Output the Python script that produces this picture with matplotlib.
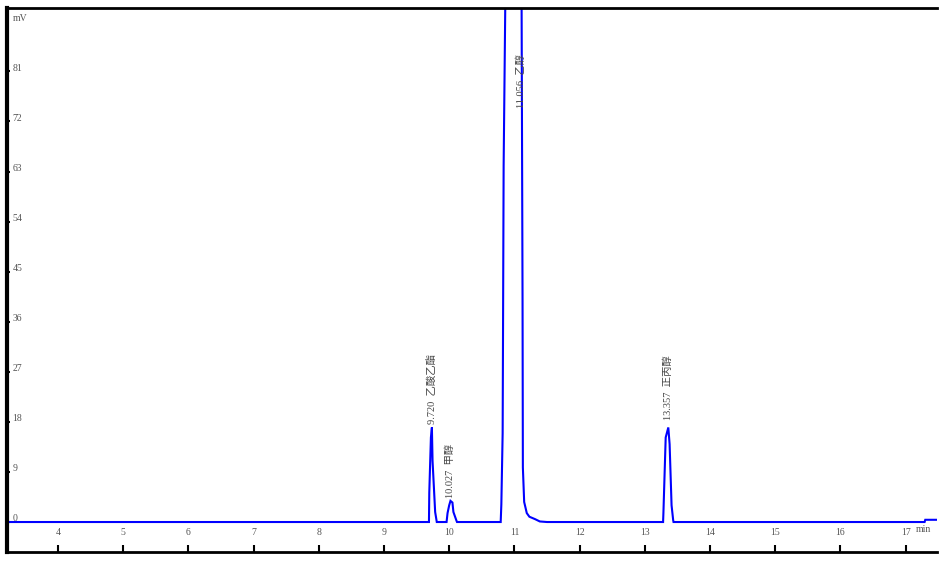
import matplotlib
matplotlib.use("Agg")
import matplotlib.pyplot as plt
import matplotlib.transforms as mtransforms

# chromatogram signal (min, mV)
time_min = [3.22, 9.60, 9.69, 9.695, 9.72, 9.735, 9.745, 9.785, 9.81,
            9.96, 9.975, 10.00, 10.02, 10.05, 10.065, 10.11, 10.12,
            10.79, 10.80, 10.82, 10.835, 10.862, 10.95, 11.05, 11.11, 11.125,
            11.13, 11.15, 11.19, 11.23, 11.32, 11.39, 11.50,
            13.25, 13.28, 13.285, 13.32, 13.36, 13.38, 13.41, 13.435, 13.44,
            17.29, 17.30, 17.50]
signal_mv = [0.0, 0.0, 0.0, 5.3, 15.2, 17.0, 11.0, 1.8, 0.0,
             0.0, 1.6, 3.0, 3.8, 3.5, 1.8, 0.3, 0.0,
             0.0, 3.2, 16.0, 64.0, 95.0, 200.0, 200.0, 95.0, 40.0,
             9.8, 3.6, 1.6, 0.95, 0.5, 0.1, 0.0,
             0.0, 0.0, 1.6, 15.2, 17.0, 14.0, 3.0, 0.3, 0.0,
             0.0, 0.4, 0.4]

# peak annotations
peak_times = [9.735, 10.02, 11.10, 13.36]
peak_label_y = [17.6, 4.4, 74.5, 18.4]
peak_labels = ["9.720  乙酸乙酯", "10.027  甲醇", "11.056  乙醇", "13.357  正丙醇"]

x_ticks = [4, 5, 6, 7, 8, 9, 10, 11, 12, 13, 14, 15, 16, 17]
y_ticks = [0, 9, 18, 27, 36, 45, 54, 63, 72, 81]

W, H = 952, 565
fig = plt.figure(figsize=(W / 100, H / 100), dpi=100)
ax = fig.add_axes([7 / W, 13 / H, 930 / W, 544 / H])
ax.set_xlim(3.22, 17.48)
ax.set_ylim(-5.39, 92.4)

ax.plot(time_min, signal_mv, color="#0000ff", lw=1.5, solid_joinstyle="miter")

ax.spines["right"].set_visible(False)
ax.spines["left"].set_linewidth(3)
ax.spines["top"].set_linewidth(2)
ax.spines["bottom"].set_linewidth(2)

tick_font = dict(family="Liberation Serif", size=7, color="#555555")

ax.set_xticks(x_ticks)
ax.set_xticklabels([])
ax.tick_params(axis="x", direction="in", length=5, width=1.5, color="black")
ax.set_yticks(y_ticks)
ax.set_yticklabels([])
ax.tick_params(axis="y", direction="in", length=2, width=1.5, color="black")

xtr = mtransforms.blended_transform_factory(ax.transData, ax.transAxes)
for t in x_ticks:
    ax.text(t, 0.035, str(t), transform=xtr, ha="center", va="center", **tick_font)

ytr = mtransforms.blended_transform_factory(ax.transAxes, ax.transData)
for v in y_ticks:
    ax.text(0.006, v + 0.55, str(v), transform=ytr, ha="left", va="center", **tick_font)

ax.text(0.006, 0.981, "mV", transform=ax.transAxes, ha="left", va="center", **tick_font)
ax.text(0.985, 0.041, "min", transform=ax.transAxes, ha="center", va="center", **tick_font)

for t, y, lab in zip(peak_times, peak_label_y, peak_labels):
    ax.text(t, y, lab, rotation=90, ha="center", va="bottom", fontsize=7.5,
            color="#444444", family=["Liberation Serif", "Noto Sans CJK SC"])

fig.savefig("out.png", dpi=100)
